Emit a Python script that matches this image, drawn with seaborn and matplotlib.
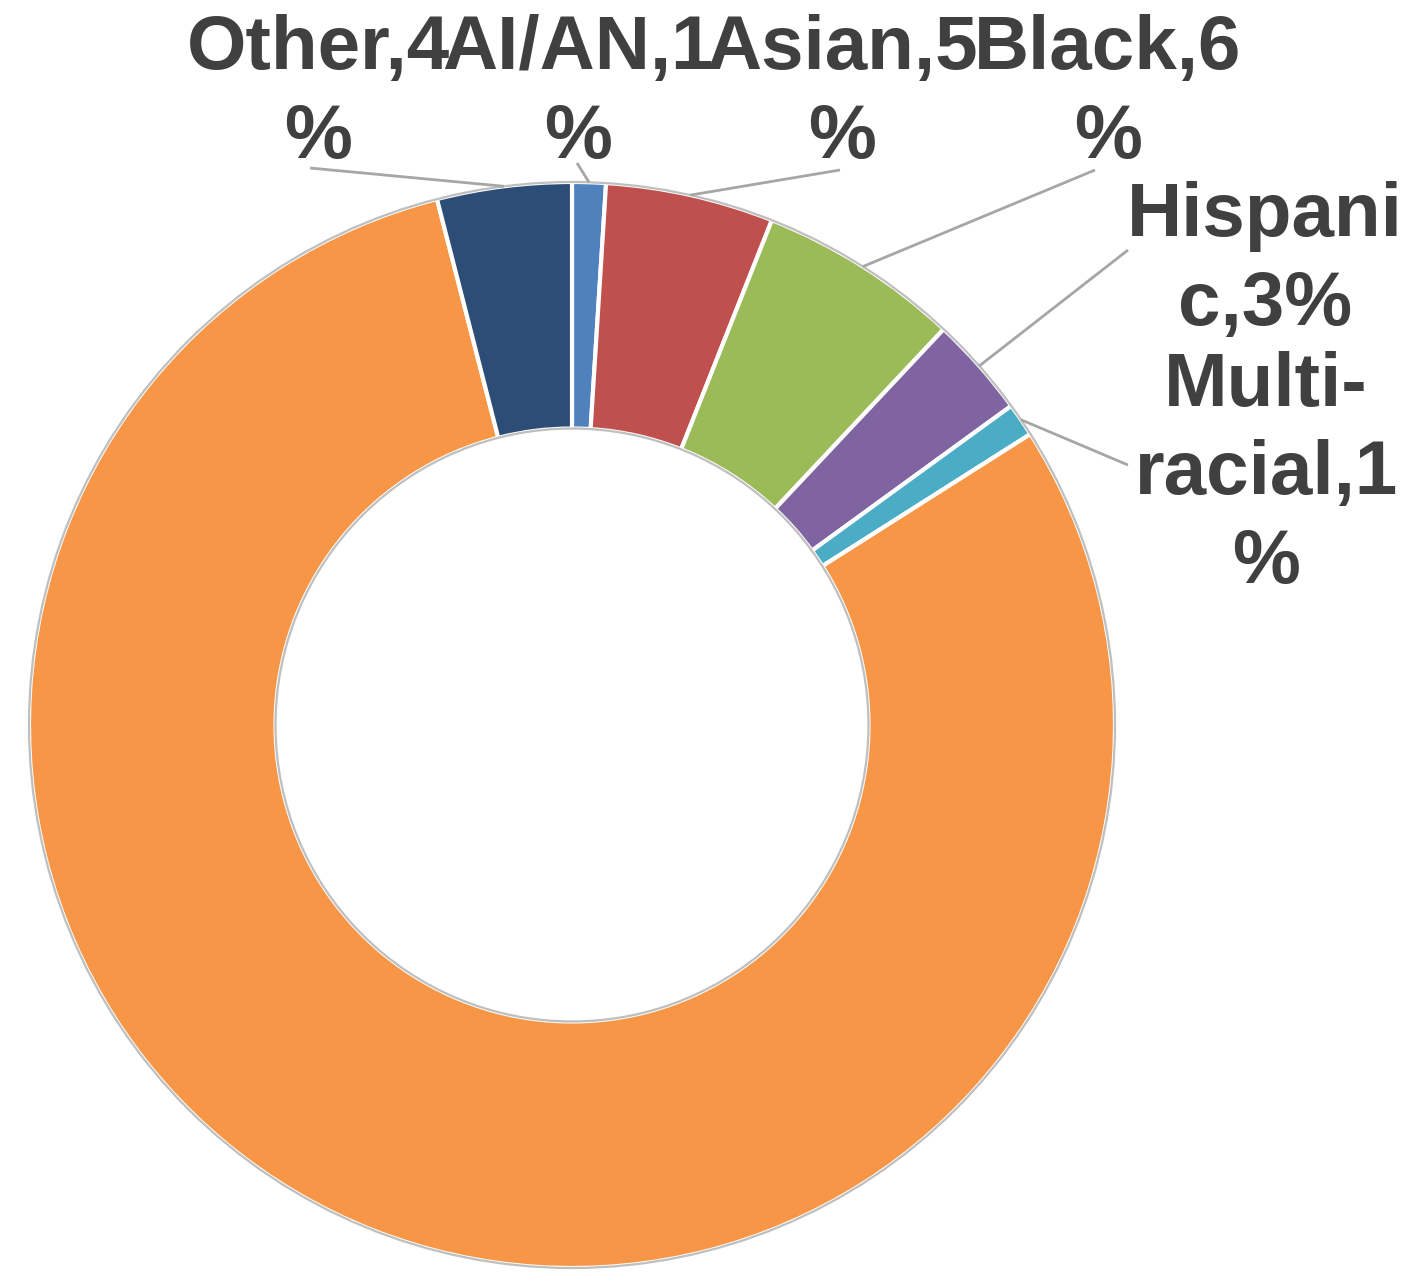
import numpy as np
import matplotlib
matplotlib.use("Agg")
import matplotlib.pyplot as plt
from matplotlib.patches import Circle
import seaborn as sns

# Share of students by race/ethnicity (percent), clockwise from 12 o'clock
groups = ["AI/AN", "Asian", "Black", "Hispanic", "Multi-racial", "White", "Other"]
shares = [1, 5, 6, 3, 1, 80, 4]
label_text = ["AI/AN,1\n%", "Asian,5\n%", "Black,6\n%", "Hispani\nc,3%",
              "Multi-\nracial,1\n%", None, "Other,4\n%"]
colors = ["#4F81BD", "#C0504D", "#9BBB59", "#8064A2", "#4BACC6", "#F79646", "#2C4D75"]

sns.set_theme(style="white")
plt.rcParams["font.family"] = ["Liberation Sans", "DejaVu Sans"]

W, H = 1411, 1277
fig = plt.figure(figsize=(W / 100, H / 100), dpi=100)
ax = fig.add_axes([0, 0, 1, 1])

# ring geometry in pixel terms
cx, cy, R = 572, 725, 543
hole = 0.546


def px(x, y):
    """Pixel position -> data position (radius 1 = outer ring)."""
    return (x - cx) / R, (cy - y) / R


wedges, _ = ax.pie(shares, colors=colors, startangle=90, counterclock=False,
                   radius=1.0,
                   wedgeprops=dict(width=1 - hole, edgecolor="white", linewidth=3))

for r in (1.0, hole):
    ax.add_patch(Circle((0, 0), r, fill=False, edgecolor="#BFBFBF", linewidth=1.6, zorder=3))

# label anchors: horizontal centre and last-line baseline, in pixels
label_pos = {
    "Other": (318, 158),
    "AI/AN": (578, 158),
    "Asian": (842, 158),
    "Black": (1108, 158),
    "Hispanic": (1265, 325),
    "Multi-racial": (1266, 583),
}
# label end of each leader line, in pixels
leader_start = {
    "Other": (310, 168),
    "AI/AN": (577, 163),
    "Asian": (840, 170),
    "Black": (1095, 170),
    "Hispanic": (1128, 250),
    "Multi-racial": (1128, 465),
}

cum = np.cumsum([0] + shares)
total = cum[-1]
for i, name in enumerate(groups):
    if label_text[i] is None:
        continue
    mid = (cum[i] + cum[i + 1]) / 2 / total * 2 * np.pi
    ex, ey = np.sin(mid) * 1.0, np.cos(mid) * 1.0
    sx, sy = px(*leader_start[name])
    ax.plot([sx, ex], [sy, ey], color="#A6A6A6", linewidth=2, zorder=4,
            solid_capstyle="butt")
    lx, ly = px(*label_pos[name])
    ax.text(lx, ly, label_text[i], ha="center", va="baseline", multialignment="center",
            fontsize=55, fontweight="bold", color="#404040", linespacing=1.32, zorder=5)

ax.set_xlim(-cx / R, (W - cx) / R)
ax.set_ylim(-(H - cy) / R, cy / R)
ax.set_aspect("auto")
ax.axis("off")

fig.savefig("out.png", dpi=100, facecolor="white")
